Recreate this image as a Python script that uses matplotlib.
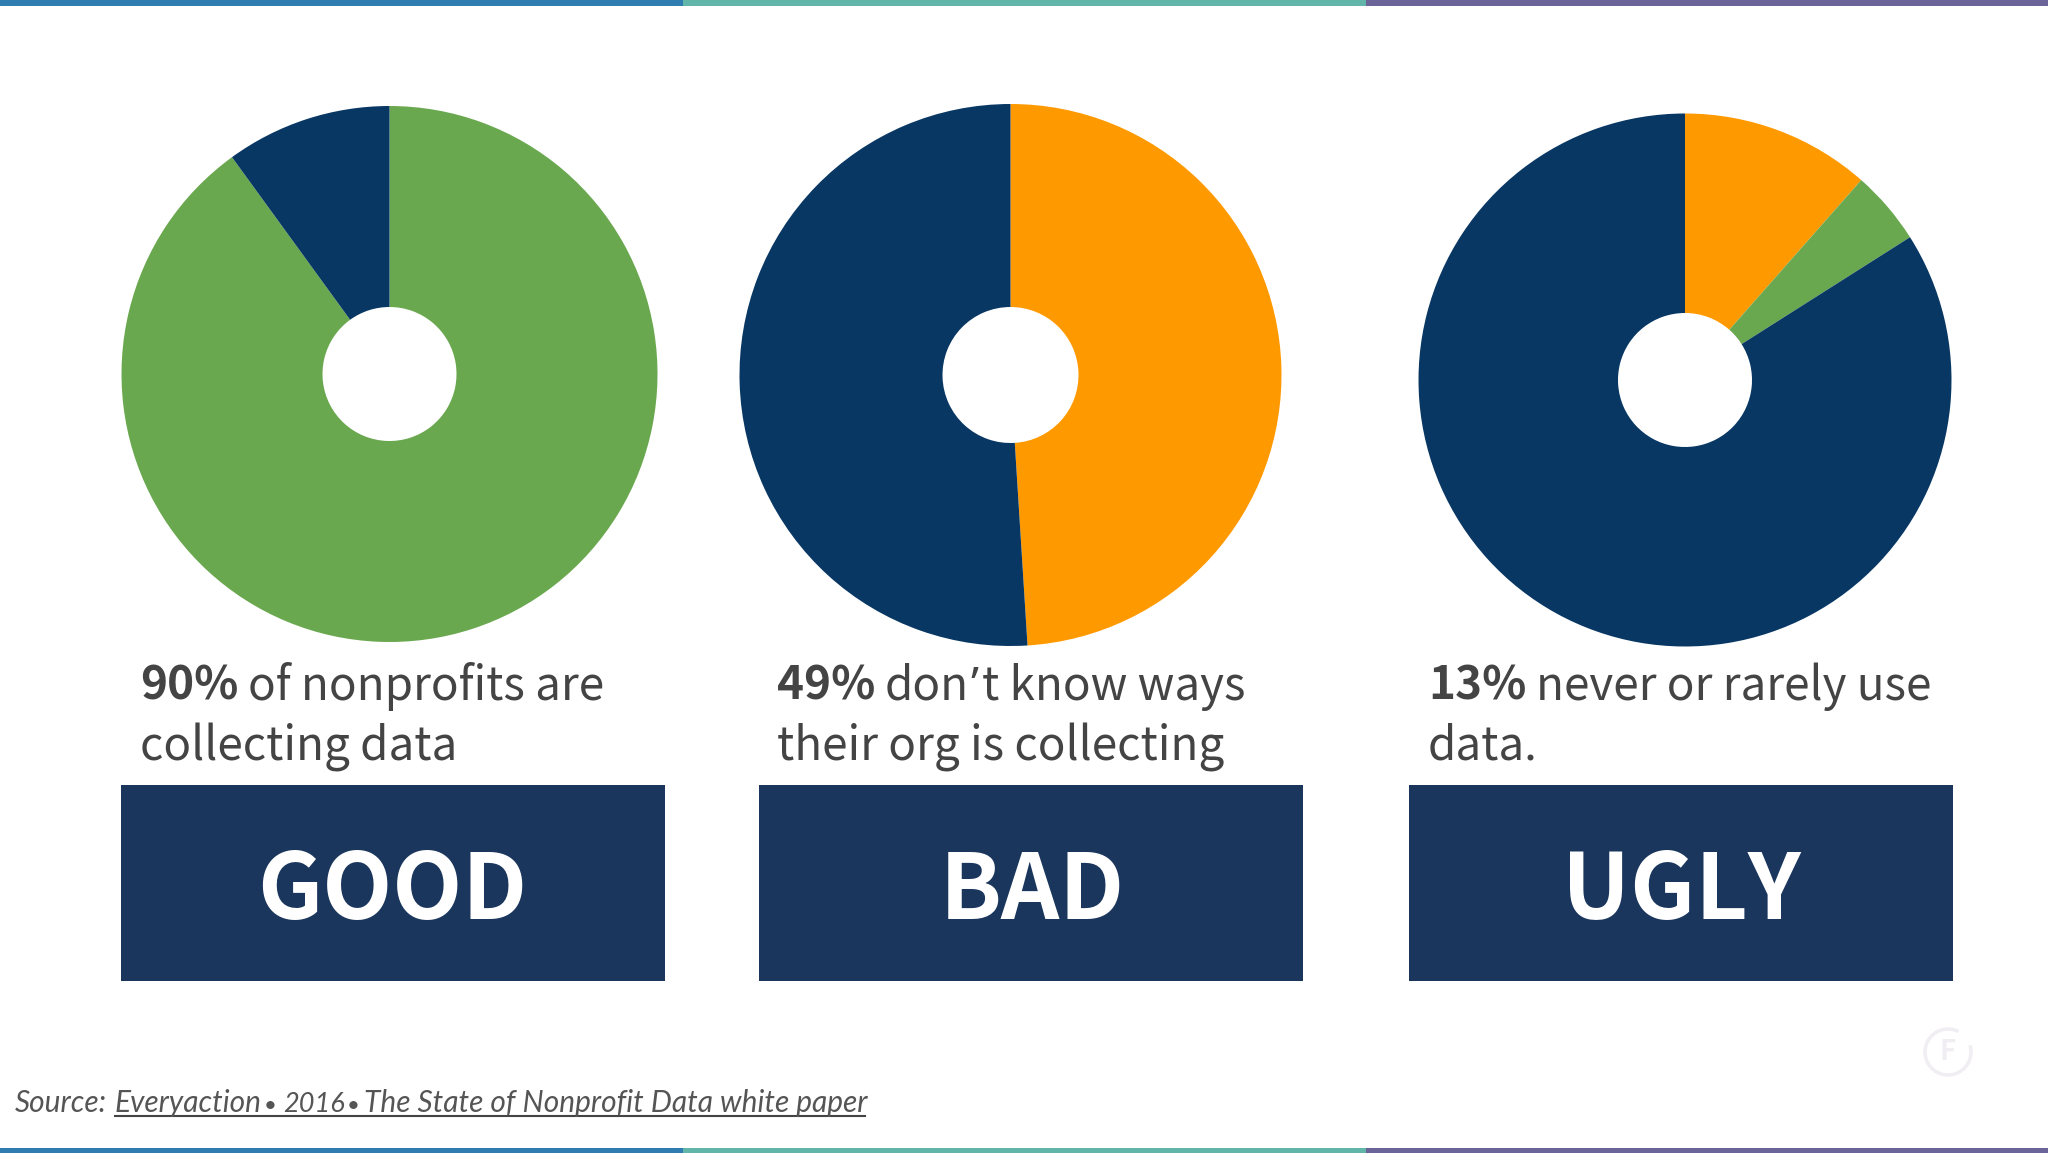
import matplotlib
matplotlib.use("Agg")
import matplotlib.pyplot as plt
from matplotlib.patches import Rectangle, Arc

W, H = 2048, 1153

# --- DATA ---
pie_good = [90, 10]
pie_bad = [49, 51]
pie_ugly = [11.5, 4.5, 84]
labels = ["GOOD", "BAD", "UGLY"]
stat_bold = ["90%", "49%", "13%"]
stat_line1 = ["of nonprofits are", "don’t know ways", "never or rarely use"]
stat_line2 = ["collecting data", "their org is collecting", "data."]
source_parts = ["Source:", "Everyaction", "•", "2016", "•", "The State of Nonprofit Data white paper"]

GREEN = "#6aa84f"
NAVY = "#083763"
ORANGE = "#ff9900"
BOX = "#1a365d"
TEXT = "#444444"
SANS = ["Noto Sans CJK SC", "DejaVu Sans"]

fig = plt.figure(figsize=(W / 100, H / 100), dpi=100, facecolor="white")
bg = fig.add_axes([0, 0, 1, 1])
bg.set_xlim(0, W)
bg.set_ylim(H, 0)
bg.axis("off")


def draw_pie(values, colors, cx, cy, r, hole):
    ax = fig.add_axes([(cx - r) / W, 1 - (cy + r) / H, 2 * r / W, 2 * r / H])
    ax.pie(values, colors=colors, startangle=90, counterclock=False, radius=1,
           wedgeprops={"width": 1 - hole / r, "linewidth": 0})
    ax.set_xlim(-1, 1)
    ax.set_ylim(-1, 1)


def stat_text(x, y, s):
    # the CJK font has a full width ’ so it comes from Noto Sans
    renderer = fig.canvas.get_renderer()
    for i, part in enumerate(s.split("’")):
        if i > 0:
            t = bg.text(x + 1, y, "’", color=TEXT, fontsize=33, family="Noto Sans", va="baseline")
            x = t.get_window_extent(renderer).x1 + 4
        t = bg.text(x, y, part, color=TEXT, fontsize=33, family=SANS, va="baseline")
        x = t.get_window_extent(renderer).x1


draw_pie(pie_good, [GREEN, NAVY], 389.5, 374, 268, 67)
draw_pie(pie_bad, [ORANGE, NAVY], 1010.5, 375, 271, 68)
draw_pie(pie_ugly, [ORANGE, GREEN, NAVY], 1685, 380, 266.5, 67)

# top and bottom stripes
stripes = [(0, 683, "#2f7cb0"), (683, 683, "#62b6a9"), (1366, 682, "#6a6499")]
for x, w, c in stripes:
    bg.add_patch(Rectangle((x, 0), w, 6, fc=c, lw=0))
    bg.add_patch(Rectangle((x, 1148), w, 5, fc=c, lw=0))

# boxes
box_x = [120.5, 759, 1409]
word_x = [392.5, 1032, 1681.5]
for x, wx, word in zip(box_x, word_x, labels):
    bg.add_patch(Rectangle((x, 785), 544, 196, fc=BOX, lw=0))
    bg.text(wx, 883, word, color="white", fontsize=65.5, fontweight="bold",
            family=SANS, ha="center", va="center_baseline")

# stat text
bold_x = [140, 777, 1428]
rest_x = [248, 885, 1536]
for i in range(3):
    bg.text(bold_x[i], 700, stat_bold[i], color=TEXT, fontsize=33, fontweight="bold",
            family=SANS, va="baseline")
    stat_text(rest_x[i], 700, stat_line1[i])
    stat_text(bold_x[i], 760, stat_line2[i])

# source line
source_x = [15, 115, 264, 283, 346.5, 364]
source_size = [21.5, 21.5, 16, 19.5, 16, 21.5]
for x, part, size in zip(source_x, source_parts, source_size):
    bg.text(x, 1112, part, color="#555555", fontsize=size, style="italic", fontweight="normal",
            family="Lato", va="baseline")
bg.plot([115, 865], [1116, 1116], color=TEXT, lw=1.5)

# faint logo
bg.add_patch(Arc((1948, 1052), 46, 46, theta1=-17, theta2=297, ec="#f0eef2", lw=2.5))
bg.text(1948, 1052, "F", color="#f0eef2", fontsize=20, fontweight="bold", family=SANS,
        ha="center", va="center")
bg.set_xlim(0, W)
bg.set_ylim(H, 0)

fig.savefig("out.png", dpi=100, facecolor="white")
